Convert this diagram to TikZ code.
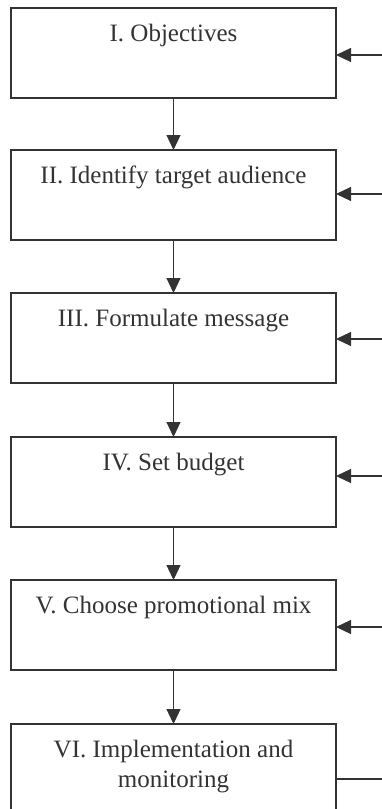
\documentclass[tikz,border=0pt]{standalone}
\usepackage{fontspec}
\setmainfont{Liberation Serif}
\usetikzlibrary{arrows.meta}
\definecolor{ink}{HTML}{333333}
\tikzset{
  stagebox/.style={draw=ink, line width=1.2pt, rectangle, inner sep=0pt, outer sep=0pt, anchor=north west, text=ink},
  flowarrow/.style={draw=ink, line width=1.2pt, -{Triangle[length=15pt,width=14pt]}},
  plainline/.style={draw=ink, line width=1.2pt}
}
\newcommand{\stagetext}[1]{\parbox[c][90pt][t]{325pt}{\centering\fontsize{25}{30}\selectfont\rule{0pt}{33pt}#1}}
\begin{document}
\begin{tikzpicture}[x=1pt,y=-1pt]
\useasboundingbox (0,0) rectangle (382,809);
\clip (0,0) rectangle (382,809);
\node[stagebox] (b1) at (11,8) {\stagetext{I. Objectives}};
\node[stagebox] (b2) at (11,150) {\stagetext{II. Identify target audience}};
\node[stagebox] (b3) at (11,293) {\stagetext{III. Formulate message}};
\node[stagebox] (b4) at (11,437) {\stagetext{IV. Set budget}};
\node[stagebox] (b5) at (11,580) {\stagetext{V. Choose promotional mix}};
\node[stagebox] (b6) at (11,724) {\stagetext{VI. Implementation and\\monitoring}};
\draw[flowarrow] (b1.south) -- (b2.north);
\draw[flowarrow] (b2.south) -- (b3.north);
\draw[flowarrow] (b3.south) -- (b4.north);
\draw[flowarrow] (b4.south) -- (b5.north);
\draw[flowarrow] (b5.south) -- (b6.north);
\coordinate (r1) at (383,55);
\coordinate (r2) at (383,194);
\coordinate (r3) at (383,339);
\coordinate (r4) at (383,476);
\coordinate (r5) at (383,627);
\coordinate (r6) at (383,779);
\draw[flowarrow] (r1) -- (r1 -| b1.east);
\draw[flowarrow] (r2) -- (r2 -| b2.east);
\draw[flowarrow] (r3) -- (r3 -| b3.east);
\draw[flowarrow] (r4) -- (r4 -| b4.east);
\draw[flowarrow] (r5) -- (r5 -| b5.east);
\draw[plainline] (b6.east |- r6) -- (r6);
\end{tikzpicture}
\end{document}
